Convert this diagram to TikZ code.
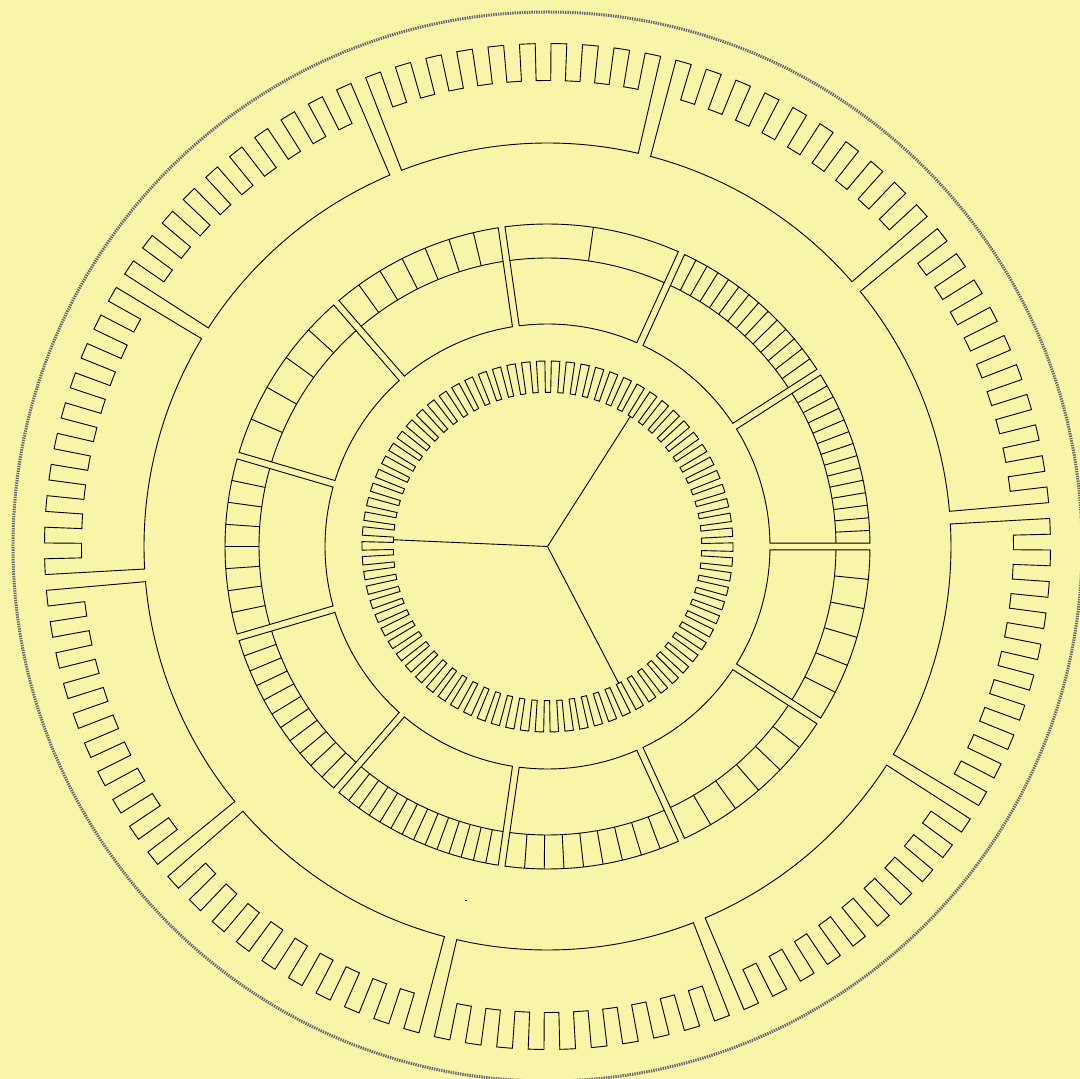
\documentclass[tikz,border=0pt]{standalone}
\usetikzlibrary{calc}

\definecolor{paper}{RGB}{249,245,168}
\definecolor{rim}{RGB}{105,105,115}

\begin{document}
\begin{tikzpicture}[x=1pt,y=1pt,line width=0.9pt,line join=miter]
    \useasboundingbox (-547.5,-532.5) rectangle (532.5,546.5);
    \fill[paper] (-547.5,-532.5) rectangle (532.5,546.5);
    \clip (-547.5,-532.5) rectangle (532.5,546.5);

    \draw[rim,line width=3pt,dash pattern=on 1.4pt off 1pt] (0,0) circle[radius=534.5];

    % hub and spokes
    \coordinate (hub) at (0,0);
    \foreach \a in {57.5,177.5,297.5} {
        \draw (hub) -- (\a:154.2);
    }

    % inner comb, 78 teeth
    \pgfmathsetmacro\p{360/78}
    \pgfmathsetmacro\t{0.57*\p}
    \pgfmathsetmacro\g{\p-\t}
    \pgfmathsetmacro\z{57.5+\g/2}
    \draw (\z:154.2)
        \foreach \k in {0,...,77} {
            -- (\z+\p*\k:185.5)
            arc[start angle=\z+\p*\k, delta angle=\t, radius=185.5]
            -- (\z+\p*\k+\t:154.2)
            arc[start angle=\z+\p*\k+\t, delta angle=\g, radius=154.2]
        } -- cycle;

    % middle ring: sector / number of boxes
    \foreach \k/\n in {0/14,1/14,2/2,3/7,4/5,5/8,6/11,7/14,8/9,9/6,10/6} {
        \pgfmathsetmacro\a{\k*360/11}
        \pgfmathsetmacro\b{\a+360/11}
        \pgfmathsetmacro\ai{\a+asin(3.4/222.5)}
        \pgfmathsetmacro\bi{\b-asin(3.4/222.5)}
        \pgfmathsetmacro\ao{\a+asin(3.4/322.5)}
        \pgfmathsetmacro\bo{\b-asin(3.4/322.5)}
        \pgfmathsetmacro\am{\a+asin(3.4/288.5)}
        \pgfmathsetmacro\bm{\b-asin(3.4/288.5)}
        \pgfmathsetmacro\d{(\bo-\ao)/\n}
        \pgfmathtruncatemacro\m{\n-1}
        \draw (\ai:222.5) -- (\ao:322.5)
            arc[start angle=\ao, end angle=\bo, radius=322.5]
            -- (\bi:222.5)
            arc[start angle=\bi, end angle=\ai, radius=222.5] -- cycle;
        \draw (\am:288.5) arc[start angle=\am, end angle=\bm, radius=288.5];
        \foreach \j in {1,...,\m} {
            \draw (\ao+\j*\d:288.5) -- (\ao+\j*\d:322.5);
        }
    }

    % outer ring: ten sectors of ten teeth
    \foreach \k in {0,...,9} {
        \pgfmathsetmacro\s{4.1+36*\k+0.9}
        \pgfmathsetmacro\e{4.1+36*\k+36-0.9}
        \pgfmathsetmacro\w{(\e-\s)/19}
        \draw (\s:403.5) -- (\s:503)
            \foreach \j in {0,...,8} {
                arc[start angle=\s+2*\j*\w, delta angle=\w, radius=503]
                -- (\s+2*\j*\w+\w:466)
                arc[start angle=\s+2*\j*\w+\w, delta angle=\w, radius=466]
                -- (\s+2*\j*\w+2*\w:503)
            }
            arc[start angle=\s+18*\w, delta angle=\w, radius=503]
            -- (\e:403.5)
            arc[start angle=\e, end angle=\s, radius=403.5] -- cycle;
    }

    \draw[line width=0.8pt] (-82.8,-353.5) -- (-80.8,-353.5);
\end{tikzpicture}
\end{document}
